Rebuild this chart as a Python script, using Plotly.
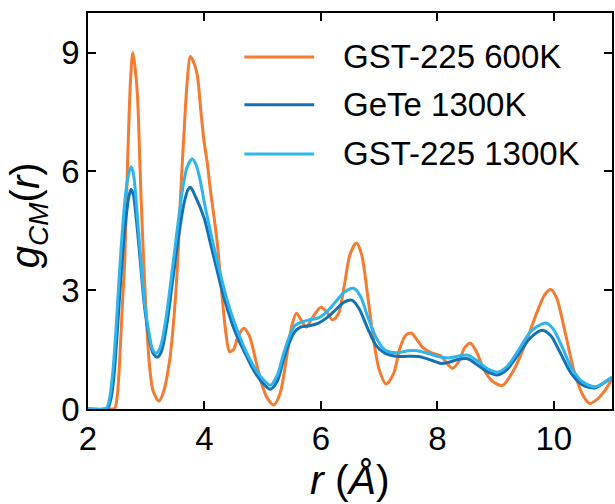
import plotly.graph_objects as go

# GST-225 600K
r_gst600 = [2.0, 2.4, 2.46, 2.5, 2.54, 2.57, 2.6, 2.63, 2.68, 2.73, 2.77, 2.81, 2.85, 2.91, 2.97,
            3.05, 3.12, 3.22, 3.3, 3.4, 3.47, 3.54, 3.59, 3.65, 3.7, 3.76, 3.83, 3.88, 3.94, 3.99,
            4.05, 4.1, 4.16, 4.22, 4.3, 4.37, 4.43, 4.5, 4.58, 4.68, 4.77, 4.87, 4.97, 5.07, 5.19,
            5.3, 5.4, 5.5, 5.58, 5.66, 5.75, 5.85, 6.0, 6.1, 6.2, 6.3, 6.4, 6.5, 6.61, 6.7, 6.8,
            6.9, 7.0, 7.12, 7.25, 7.35, 7.45, 7.55, 7.65, 7.75, 7.9, 8.05, 8.15, 8.26, 8.37, 8.47,
            8.57, 8.67, 8.8, 8.95, 9.12, 9.3, 9.5, 9.7, 9.85, 9.95, 10.05, 10.2, 10.35, 10.5, 10.62,
            10.75, 10.87, 11.0]
g_gst600 = [0.0, 0.0, 0.02, 0.3, 1.1, 2.0, 2.9, 3.7, 6.2, 8.3, 9.0, 8.6, 7.9, 5.4, 3.3,
            1.2, 0.45, 0.2, 0.45, 1.2, 2.2, 3.7, 5.4, 7.0, 8.2, 8.9, 8.7, 8.4, 7.5, 6.8,
            6.2, 5.55, 4.9, 4.2, 2.9, 1.9, 1.45, 1.5, 1.85, 2.04, 1.85, 1.3, 0.7, 0.3, 0.1,
            0.4, 1.2, 2.1, 2.42, 2.25, 2.07, 2.3, 2.57, 2.45, 2.25, 2.4, 3.1, 3.9, 4.19, 3.9, 2.9,
            1.8, 1.0, 0.63, 0.9, 1.5, 1.85, 1.92, 1.75, 1.55, 1.42, 1.35, 1.18, 1.03, 1.2, 1.55,
            1.66, 1.45, 1.0, 0.7, 0.6, 0.95, 1.6, 2.4, 2.9, 3.02, 2.8, 1.9, 0.95, 0.35, 0.14,
            0.25, 0.45, 0.75]

# GeTe 1300K
r_gete = [2.0, 2.3, 2.35, 2.4, 2.45, 2.5, 2.55, 2.6, 2.65, 2.7, 2.74, 2.78, 2.83, 2.9, 2.97,
          3.05, 3.12, 3.19, 3.26, 3.35, 3.45, 3.55, 3.65, 3.72, 3.76, 3.85, 4.0, 4.1, 4.2, 4.3,
          4.4, 4.5, 4.6, 4.7, 4.8, 4.9, 5.0, 5.13, 5.25, 5.35, 5.45, 5.55, 5.65, 5.8, 5.96,
          6.1, 6.25, 6.4, 6.53, 6.65, 6.8, 6.95, 7.1, 7.3, 7.5, 7.7, 7.9, 8.06, 8.2, 8.35,
          8.52, 8.7, 8.85, 9.03, 9.2, 9.4, 9.6, 9.8, 9.95, 10.1, 10.3, 10.5, 10.7, 10.85, 11.0]
g_gete = [0.0, 0.0, 0.05, 0.3, 0.9, 1.9, 3.0, 4.0, 4.8, 5.35, 5.55, 5.4, 4.8, 3.7, 2.6,
          1.8, 1.4, 1.31, 1.45, 2.1, 3.2, 4.3, 5.2, 5.55, 5.6, 5.35, 4.8, 4.2, 3.6, 3.0,
          2.5, 2.05, 1.7, 1.4, 1.1, 0.85, 0.66, 0.5, 0.7, 1.2, 1.65, 1.95, 2.07, 2.1, 2.17,
          2.3, 2.5, 2.7, 2.75, 2.55, 2.05, 1.6, 1.41, 1.33, 1.33, 1.32, 1.23, 1.15, 1.18, 1.25,
          1.27, 1.1, 0.95, 0.86, 1.0, 1.4, 1.8, 1.99, 1.85, 1.45, 0.9, 0.6, 0.53, 0.65, 0.8]

# GST-225 1300K
r_gst1300 = [2.0, 2.28, 2.33, 2.38, 2.43, 2.48, 2.53, 2.58, 2.63, 2.68, 2.74, 2.78, 2.83, 2.9,
             2.97, 3.05, 3.11, 3.17, 3.24, 3.33, 3.43, 3.53, 3.62, 3.7, 3.79, 3.86, 3.93, 4.0,
             4.1, 4.2, 4.3, 4.4, 4.5, 4.6, 4.7, 4.8, 4.9, 5.0, 5.13, 5.25, 5.35, 5.45, 5.55, 5.62,
             5.8, 5.96, 6.1, 6.25, 6.4, 6.56, 6.68, 6.8, 6.95, 7.1, 7.3, 7.5, 7.65, 7.85, 8.0,
             8.18, 8.35, 8.52, 8.7, 8.85, 9.03, 9.2, 9.4, 9.6, 9.8, 9.88, 10.0, 10.15, 10.3, 10.5,
             10.7, 10.85, 11.0]
g_gst1300 = [0.0, 0.0, 0.05, 0.35, 1.0, 2.0, 3.2, 4.3, 5.2, 5.8, 6.12, 5.95, 5.2, 3.9,
             2.7, 1.9, 1.5, 1.41, 1.55, 2.2, 3.3, 4.5, 5.5, 6.1, 6.31, 6.15, 5.75, 5.2,
             4.5, 3.85, 3.25, 2.7, 2.25, 1.85, 1.5, 1.2, 0.95, 0.76, 0.6, 0.85, 1.35, 1.8, 2.1, 2.17,
             2.25, 2.3, 2.45, 2.7, 2.95, 3.05, 2.85, 2.35, 1.8, 1.49, 1.42, 1.47, 1.47, 1.4, 1.33,
             1.29, 1.33, 1.36, 1.2, 1.03, 0.93, 1.08, 1.5, 1.95, 2.15, 2.17, 2.0, 1.55, 1.05, 0.68,
             0.56, 0.65, 0.8]

x_ticks = [2, 4, 6, 8, 10]
y_ticks = [0, 3, 6, 9]

names = ["GST-225 600K", "GeTe 1300K", "GST-225 1300K"]
colors = ["#F47B30", "#1272B8", "#2FB5EA"]
FONT = "Liberation Sans, Arial, Helvetica, sans-serif"

fig = go.Figure()
for i, (rx, gy) in enumerate([(r_gst600, g_gst600), (r_gete, g_gete), (r_gst1300, g_gst1300)]):
    fig.add_trace(go.Scatter(
        x=rx, y=gy, mode="lines", name=names[i], showlegend=False,
        line=dict(color=colors[i], width=3, shape="spline", smoothing=0.8),
    ))

# legend drawn in paper coordinates
leg_y = [0.889, 0.768, 0.644]
for i, name in enumerate(names):
    fig.add_shape(type="line", xref="paper", yref="paper",
                  x0=0.2985, x1=0.4316, y0=leg_y[i], y1=leg_y[i],
                  line=dict(color=colors[i], width=3))
    fig.add_annotation(xref="paper", yref="paper", x=0.482, y=leg_y[i],
                       xanchor="left", yanchor="middle", showarrow=False,
                       text=name, font=dict(family=FONT, size=33, color="black"))

# axis titles
fig.add_annotation(xref="paper", yref="paper", x=(28 - 88) / 526, y=(409 - 215) / 396,
                   xanchor="center", yanchor="middle", showarrow=False, textangle=-90,
                   text="<i>g</i><sub><i>CM</i></sub>(<i>r</i>)",
                   font=dict(family=FONT, size=40, color="black"))
fig.add_annotation(xref="paper", yref="paper", x=(351 - 88) / 526, y=(409 - 480) / 396,
                   xanchor="center", yanchor="middle", showarrow=False,
                   text="<i>r</i> (<i>Å</i>)",
                   font=dict(family=FONT, size=41, color="black"))

axis_common = dict(
    showline=True, linecolor="black", linewidth=1.5, mirror="ticks",
    ticks="inside", ticklen=8, tickwidth=1.5, tickcolor="black",
    showgrid=False, zeroline=False,
    tickfont=dict(family=FONT, size=33, color="black"),
)

fig.update_layout(
    width=615, height=504,
    margin=dict(l=88, r=1, t=13, b=95),
    paper_bgcolor="white", plot_bgcolor="white",
    font=dict(family=FONT, color="black"),
    showlegend=False,
    xaxis=dict(range=[2, 11], tickvals=x_ticks, **axis_common),
    yaxis=dict(range=[0, 10], tickvals=y_ticks, **axis_common),
)

fig.write_html("out.html")
